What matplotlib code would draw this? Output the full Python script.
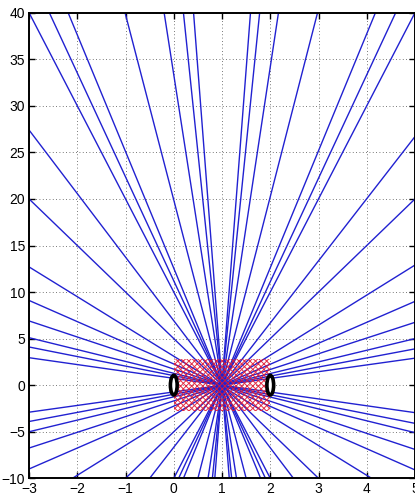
import numpy as np
import matplotlib.pyplot as plt
from matplotlib.patches import Rectangle, Ellipse

# rays, read off the picture as the points where they meet the frame
# steep rays: cross the top (y=40) and the bottom (y=-10)
top_x = [-3.0, -2.58, -2.19, -1.01, -0.2, 0.2, 0.41, 1.59, 1.78, 2.17, 2.98, 4.18, 4.6, 5.0]
top_bot_x = [2.0, 1.9, 1.8, 1.5, 1.3, 1.2, 1.15, 0.85, 0.8, 0.71, 0.5, 0.2, 0.1, 0.0]
# rays from the left side (x=-3) down to the bottom
left_y = [27.4, 20.0, 12.7]
left_bot_x = [2.48, 3.0, 4.1]
# rays from the right side (x=5) down to the bottom
right_y = [26.7, 20.0, 12.9]
right_bot_x = [-0.5, -1.0, -2.1]
# flat rays: left side to right side
side_left_y = [9.1, 6.9, 5.1, 4.1, 2.95, -2.9, -3.9, -5.0, -6.75, -9.0]
side_right_y = [-9.1, -6.9, -5.1, -4.1, -2.95, 2.9, 3.9, 5.0, 6.75, 9.0]

# mesh region and the two rings
box_x = [0.0, 2.0]
box_y = [-2.8, 2.8]
ring_x = [0.0, 2.0]
ring_y = [0.0, 0.0]

xmin, xmax, ymin, ymax = -3, 5, -10, 40

plt.rcParams['font.family'] = ['Liberation Sans Narrow', 'Liberation Sans', 'DejaVu Sans']
plt.rcParams['font.size'] = 10

fig = plt.figure(figsize=(4.15, 5.0), dpi=100)
ax = fig.add_axes([0.070, 0.0434, 0.930, 0.9312])

blue = (0.13, 0.13, 0.82)
lw = 1.0

for a, b in zip(top_x, top_bot_x):
    ax.plot([a, b], [ymax, ymin], color=blue, lw=lw)
for a, b in zip(left_y, left_bot_x):
    ax.plot([xmin, b], [a, ymin], color=blue, lw=lw)
for a, b in zip(right_y, right_bot_x):
    ax.plot([xmax, b], [a, ymin], color=blue, lw=lw)
for a, b in zip(side_left_y, side_right_y):
    ax.plot([xmin, xmax], [a, b], color=blue, lw=lw)

plt.rcParams['hatch.linewidth'] = 0.7
mesh = Rectangle((box_x[0], box_y[0]), box_x[1] - box_x[0], box_y[1] - box_y[0],
                 facecolor='none', edgecolor=(0.88, 0.1, 0.2), lw=0,
                 hatch='xxxxxx', zorder=3, alpha=0.9)
ax.add_patch(mesh)

for cx, cy in zip(ring_x, ring_y):
    ax.add_patch(Ellipse((cx, cy), 0.14, 2.1, facecolor='white',
                         edgecolor='black', lw=2.6, zorder=5))

ax.set_xlim(xmin, xmax)
ax.set_ylim(ymin, ymax)
ax.set_xticks(np.arange(xmin, xmax + 1, 1))
ax.set_yticks(np.arange(ymin, ymax + 1, 5))
ax.grid(True, color='black', linestyle=(0, (1, 3)), lw=0.6, alpha=0.7)
ax.tick_params(direction='in', length=4, width=1, top=True, right=True, pad=3)
for s in ax.spines.values():
    s.set_linewidth(1.4)

fig.savefig('out.png', dpi=100)
